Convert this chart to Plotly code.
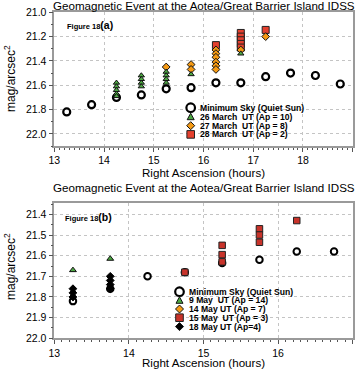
import plotly.graph_objects as go

# ---------------- data: panel (a) ----------------
ra_min_a = [13.25, 13.75, 14.25, 14.75, 15.25, 15.75, 16.25, 16.75, 17.25, 17.75, 18.25, 18.75]
min_sky_a = [21.82, 21.76, 21.70, 21.68, 21.63, 21.62, 21.58, 21.58, 21.53, 21.50, 21.52, 21.59]

ra_mar26 = [14.25, 14.25, 14.25, 14.25, 14.25, 14.75, 14.75, 14.75, 14.75,
            15.25, 15.25, 15.25, 15.25, 15.75, 16.75]
mag_mar26 = [21.58, 21.61, 21.64, 21.67, 21.69, 21.52, 21.55, 21.58, 21.61,
             21.49, 21.52, 21.55, 21.58, 21.51, 21.34]

ra_mar27 = [15.25, 15.75, 15.75, 16.25, 16.25, 16.25, 16.25, 16.25, 16.25, 16.75, 17.25]
mag_mar27 = [21.45, 21.43, 21.47, 21.31, 21.34, 21.37, 21.41, 21.44, 21.47, 21.31, 21.20]

ra_mar28 = [16.25, 16.75, 16.75, 16.75, 16.75, 16.75, 17.25]
mag_mar28 = [21.27, 21.17, 21.20, 21.23, 21.26, 21.29, 21.145]

# ---------------- data: panel (b) ----------------
ra_min_b = [13.25, 13.75, 14.25, 14.75, 15.25, 15.75, 16.25, 16.75]
min_sky_b = [21.82, 21.76, 21.70, 21.68, 21.635, 21.62, 21.58, 21.58]

ra_may9 = [13.25, 13.75]
mag_may9 = [21.67, 21.615]

ra_may14 = []
mag_may14 = []

ra_may15 = [14.75, 15.25, 15.25, 15.25, 15.75, 15.75, 15.75, 16.25]
mag_may15 = [21.68, 21.55, 21.595, 21.63, 21.47, 21.50, 21.535, 21.43]

ra_may18 = [13.25, 13.25, 13.25, 13.75, 13.75, 13.75, 13.75]
mag_may18 = [21.76, 21.78, 21.80, 21.70, 21.72, 21.74, 21.76]

# labels
title_text = "Geomagnetic Event at the Aotea/Great Barrier Island IDSS"
legend_a = ["Minimum Sky (Quiet Sun)", "26 March  UT (Ap = 10)", "27 March  UT (Ap = 8)", "28 March  UT (Ap = 2)"]
legend_b = ["Minimum Sky (Quiet Sun)", "9 May  UT (Ap = 14)", "14 May UT (Ap = 7)", "15 May  UT (Ap = 3)", "18 May UT (Ap=4)"]

W, H = 357, 369
GREEN = "#4da843"
ORANGE = "#f59a14"
RED = "#e5402e"
RED_B = "#c8332a"
FONT = "Liberation Sans, Arial, Helvetica, sans-serif"

def px(x):
    return x / W

def py(y):
    return 1 - y / H

fig = go.Figure()

circ = dict(symbol="circle", size=7, color="white", line=dict(color="black", width=2.2))
circ_b = dict(symbol="circle", size=6.5, color="white", line=dict(color="black", width=2))

# panel a traces
fig.add_trace(go.Scatter(x=ra_min_a, y=min_sky_a, mode="markers", marker=circ, xaxis="x", yaxis="y", showlegend=False))
fig.add_trace(go.Scatter(x=ra_mar28, y=mag_mar28, mode="markers",
                         marker=dict(symbol="square", size=7, color=RED, line=dict(color="#222", width=1)),
                         xaxis="x", yaxis="y", showlegend=False))
fig.add_trace(go.Scatter(x=ra_mar27, y=mag_mar27, mode="markers",
                         marker=dict(symbol="diamond", size=6, color=ORANGE, line=dict(color="#111", width=1)),
                         xaxis="x", yaxis="y", showlegend=False))
fig.add_trace(go.Scatter(x=ra_mar26, y=mag_mar26, mode="markers",
                         marker=dict(symbol="triangle-up", size=5.5, color=GREEN, line=dict(color="#111", width=1)),
                         xaxis="x", yaxis="y", showlegend=False))

# panel b traces
fig.add_trace(go.Scatter(x=ra_min_b, y=min_sky_b, mode="markers", marker=circ_b, xaxis="x2", yaxis="y2", showlegend=False))
fig.add_trace(go.Scatter(x=ra_may14, y=mag_may14, mode="markers",
                         marker=dict(symbol="diamond", size=6, color=ORANGE, line=dict(color="#111", width=1)),
                         xaxis="x2", yaxis="y2", showlegend=False))
fig.add_trace(go.Scatter(x=ra_may15, y=mag_may15, mode="markers",
                         marker=dict(symbol="square", size=6.5, color=RED_B, line=dict(color="#222", width=1)),
                         xaxis="x2", yaxis="y2", showlegend=False))
fig.add_trace(go.Scatter(x=ra_may18, y=mag_may18, mode="markers",
                         marker=dict(symbol="diamond", size=6, color="black", line=dict(color="black", width=1)),
                         xaxis="x2", yaxis="y2", showlegend=False))
fig.add_trace(go.Scatter(x=ra_may9, y=mag_may9, mode="markers",
                         marker=dict(symbol="triangle-up", size=6, color=GREEN, line=dict(color="#111", width=1)),
                         xaxis="x2", yaxis="y2", showlegend=False))

axis_common = dict(
    showline=True, linecolor="#9a9a9a", linewidth=1.5, mirror=True,
    ticks="outside", ticklen=4, tickwidth=1, tickcolor="#555",
    showgrid=True, gridcolor="#c4c4c4", griddash="dot", gridwidth=1,
    zeroline=False, tickfont=dict(family=FONT, size=10.5, color="black"),
)
minor_x = dict(ticks="outside", ticklen=2, dtick=0.1, tickcolor="#555", showgrid=False)

x_dom = [px(54.3), px(352.7)]
fig.update_layout(
    width=W, height=H, margin=dict(l=0, r=0, t=0, b=0, autoexpand=False),
    paper_bgcolor="white", plot_bgcolor="white", showlegend=False,
    xaxis=dict(axis_common, domain=x_dom, range=[13, 19], dtick=1, anchor="y", minor=minor_x),
    yaxis=dict(axis_common, domain=[py(146), py(12.3)], range=[22.1, 21.0], dtick=0.2, tickformat=".1f",
               anchor="x", minor=dict(ticks="outside", ticklen=2, dtick=0.1, tickcolor="#555", showgrid=False)),
    xaxis2=dict(axis_common, domain=x_dom, range=[13, 17], dtick=1, anchor="y2", minor=minor_x),
    yaxis2=dict(axis_common, domain=[py(338.3), py(203)], range=[22.0, 21.345], dtick=0.1, tickformat=".1f",
                anchor="x2", minor=dict(ticks="outside", ticklen=2, dtick=0.05, tickcolor="#555", showgrid=False)),
)

ann = []
cx = (54.3 + 352.7) / 2
for ty in (5.5, 187):
    ann.append(dict(text=title_text, x=px(cx), y=py(ty), xref="paper", yref="paper", showarrow=False,
                    xanchor="center", yanchor="middle", font=dict(family=FONT, size=11.6, color="black")))
for ty in (172.5, 362.5):
    ann.append(dict(text="Right Ascension (hours)", x=px(cx), y=py(ty), xref="paper", yref="paper", showarrow=False,
                    xanchor="center", yanchor="middle", font=dict(family=FONT, size=11.6, color="black")))
for ty in (79, 267):
    ann.append(dict(text="mag/arcsec<sup>2</sup>", x=px(10), y=py(ty), xref="paper", yref="paper", showarrow=False,
                    textangle=-90, xanchor="center", yanchor="middle", font=dict(family=FONT, size=12, color="black")))
for lab, tx, ty in (("(a)", 65, 25), ("(b)", 63, 216.5)):
    ann.append(dict(text="<b><span style='font-size:7.5px'>Figure 18</span>" + lab + "</b>", x=px(tx), y=py(ty),
                    xref="paper", yref="paper", showarrow=False, xanchor="left", yanchor="middle",
                    font=dict(family=FONT, size=10.5, color="black")))

shapes = []

def leg_marker(kind, cxp, cyp, color):
    base = dict(xref="paper", yref="paper", xsizemode="pixel", ysizemode="pixel",
                xanchor=px(cxp), yanchor=py(cyp), layer="above")
    if kind == "circle":
        base.update(type="circle", x0=-4.3, x1=4.3, y0=-4.3, y1=4.3, fillcolor="white",
                    line=dict(color="black", width=2.2))
    elif kind == "triangle":
        base.update(type="path", path="M-3.5,-3 L3.5,-3 L0,3.5 Z", fillcolor=color, line=dict(color="#111", width=1))
    elif kind == "diamond":
        base.update(type="path", path="M0,-4 L4,0 L0,4 L-4,0 Z", fillcolor=color, line=dict(color="#111", width=1))
    elif kind == "square":
        base.update(type="rect", x0=-3.8, x1=3.8, y0=-3.8, y1=3.8, fillcolor=color, line=dict(color="#222", width=1))
    shapes.append(base)

LFONT = dict(family="Liberation Sans Narrow, Arial Narrow, Liberation Sans, Arial", size=8.6, color="black")
kinds_a = [("circle", None), ("triangle", GREEN), ("diamond", ORANGE), ("square", RED)]
rows_a = [107.7, 116.7, 125.7, 134.4]
for (k, c), lab, ry in zip(kinds_a, legend_a, rows_a):
    leg_marker(k, 190.7, ry, c)
    ann.append(dict(text="<b>" + lab + "</b>", x=px(197.5), y=py(ry), xref="paper", yref="paper", showarrow=False,
                    xanchor="left", yanchor="middle", font=LFONT))

kinds_b = [("circle", None), ("triangle", GREEN), ("diamond", ORANGE), ("square", RED_B), ("diamond", "black")]
rows_b = [291.7, 300.3, 309, 317.7, 326.6]
for (k, c), lab, ry in zip(kinds_b, legend_b, rows_b):
    leg_marker(k, 179.5, ry, c)
    ann.append(dict(text="<b>" + lab + "</b>", x=px(186.5), y=py(ry), xref="paper", yref="paper", showarrow=False,
                    xanchor="left", yanchor="middle", font=LFONT))

fig.update_layout(annotations=ann, shapes=shapes)
fig.write_html("out.html", config={"displayModeBar": False},
               post_script="document.body.style.margin='0';document.body.style.overflow='hidden';")
